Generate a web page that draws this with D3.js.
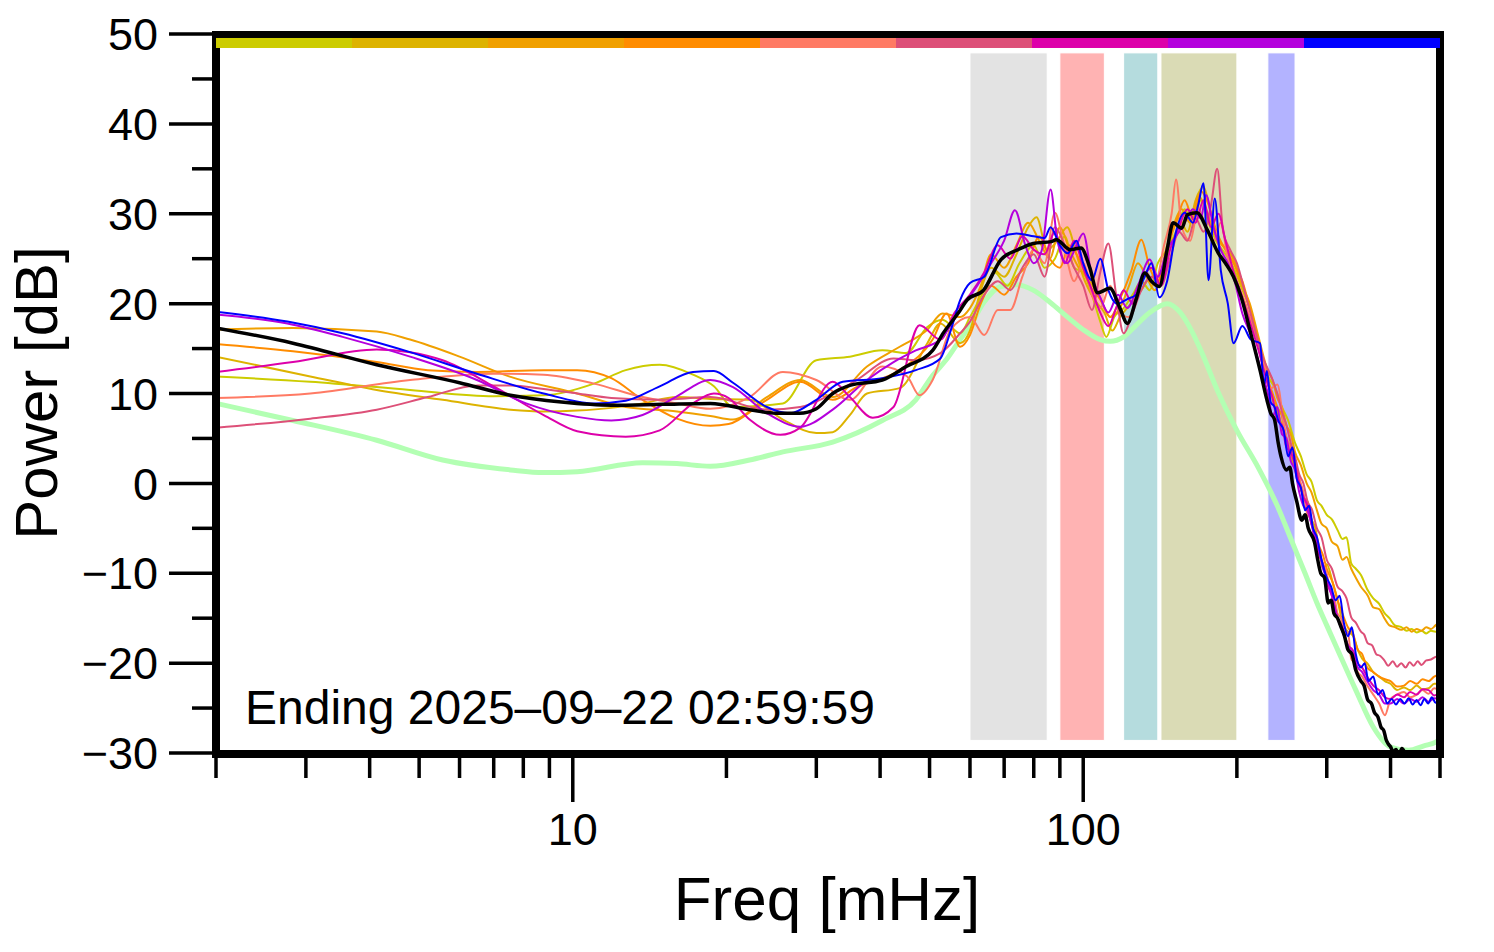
<!DOCTYPE html>
<html><head><meta charset="utf-8">
<script src="https://cdn.jsdelivr.net/npm/d3@7"></script>
<style>body{margin:0;background:#fff} svg{display:block} text{font-family:"Liberation Sans",Arial,Helvetica,sans-serif;fill:#000}</style>
</head><body><svg id="c" width="1494" height="952"></svg>
<script>
// ---- axis data ----
const xDomain = [2, 500];
const yDomain = [-30, 50];
const yMajorTicks = [-30, -20, -10, 0, 10, 20, 30, 40, 50];
const yMinorTicks = [-25, -15, -5, 5, 15, 25, 35, 45];
const xMajorTicks = [10, 100];
const xMinorTicks = [2, 3, 4, 5, 6, 7, 8, 9, 20, 30, 40, 50, 60, 70, 80, 90, 200, 300, 400, 500];
const xTitle = "Freq [mHz]";
const yTitle = "Power [dB]";
const note = "Ending 2025\u201309\u201322 02:59:59";

// ---- shaded frequency bands (mHz) ----
const bandLo = [60, 90, 120, 142, 230];
const bandHi = [85, 110, 140, 200, 260];
const bandColors = ["#E3E3E3", "#FFB3B3", "#B5DCDE", "#DADBB5", "#B3B3FF"];
const bandRange = [-28.6, 47.9];

// ---- colour bar segments (one per series) ----
const segmentNames = ["h1", "h2", "h3", "h4", "h5", "h6", "h7", "h8", "h9"];
const segmentColors = ["#CCCC00", "#DDB300", "#F0A000", "#FF8C00", "#FF7A64", "#DD5078", "#DD00AA", "#B400DD", "#0000FF"];
const barLevel = [47.9, 49.0];

// ---- series values: [freq mHz, dB] ----
const noiseRef = [[2,8.9],[2.83,7.0],[4.13,4.8],[5.56,2.6],[7.55,1.5],[8.77,1.2],[10.2,1.3],[13.7,2.3],[16,2.2],[18.6,1.9],[22.2,2.6],[25.8,3.5],[32.3,4.6],[40.4,7.0],[47,9.3],[50.7,12.0],[54,13.8],[57.4,16.0],[60,17.5],[63.8,20.1],[68.9,21.9],[74,22.1],[79.8,21.5],[86.3,20.1],[93.2,18.5],[100,17.1],[108,16.0],[113,15.8],[120,16.3],[127,17.6],[135,19.0],[146,20.0],[155,19.0],[163,17.0],[170,14.8],[183,10.4],[200,5.9],[220,1.8],[240,-2.5],[257,-6.6],[272,-10.0],[287,-13.3],[300,-15.8],[315,-18.5],[342,-23.0],[370,-27.1],[399,-29.3],[434,-29.7],[465,-29.2],[490,-28.8],[500,-28.5]];

const yellowGreen = [[2,11.9],[3.06,11.3],[4.8,10.4],[7.0,9.7],[8.77,9.8],[11,11.1],[12.7,12.6],[14.8,13.2],[17.2,12.1],[18.9,10.8],[20.6,8.5],[25.8,8.9],[30,13.7],[34.9,14.1],[40.4,14.8],[45,14.5],[49.5,17.4],[53,18.2],[57.4,16.7],[60,18.5],[64,21.5],[67,23.5],[71,22.0],[75,24.5],[80,26.5],[84,24.0],[88,25.0],[92,27.5],[96,24.0],[100,23.5],[104,21.0],[108,18.0],[111,16.3],[115,18.5],[120,19.5],[125,21.0],[130,22.5],[135,21.5],[140,24.5],[146,26.0],[152,28.0],[158,30.5],[164,29.0],[170,31.5],[176,29.0],[182,27.0],[190,25.5],[197,24.0],[205,21.5],[212,19.5],[220,16.0],[230,12.0],[238,10.5],[245,8.5],[252,7.0],[260,4.5],[267,3.0],[274,1.0],[280,0.2],[287,-1.9],[293,-2.5],[300,-3.5],[307,-4.0],[315,-5.2],[322,-6.2],[328,-6.0],[335,-8.9],[342,-9.5],[350,-10.2],[361,-11.9],[370,-12.8],[380,-13.4],[389,-14.4],[398,-15.0],[408,-15.8],[420,-16.0],[430,-16.4],[440,-16.2],[450,-16.6],[460,-16.4],[470,-16.7],[480,-16.4],[490,-16.5],[500,-16.3]];

const gold = [[2,14.1],[3.06,11.9],[4.13,10.4],[5.56,9.3],[7.55,8.2],[8.77,8.0],[10.2,8.1],[11.9,8.4],[13.7,8.9],[16,9.6],[18.6,9.4],[22.2,9.3],[25.8,7.1],[30,5.6],[32.3,5.7],[34.9,7.6],[37.7,10.0],[43.7,10.6],[49.5,15.6],[52.5,17.8],[57.4,15.6],[60,17.0],[63,21.5],[66,24.0],[70,23.0],[74,25.5],[78,28.5],[81,29.6],[85,26.0],[89,27.0],[93,28.5],[97,25.5],[100,23.0],[105,20.5],[110,19.0],[114,17.0],[118,18.5],[124,20.0],[130,21.5],[136,23.0],[142,22.5],[148,27.0],[154,29.5],[160,28.0],[166,31.5],[172,33.0],[178,30.0],[184,27.5],[190,26.0],[197,25.0],[205,22.0],[213,19.0],[222,15.0],[230,11.5],[236,9.0],[240,8.0],[245,6.5],[250,5.0],[255,3.0],[260,1.5],[265,0.0],[270,-1.5],[275,-2.5],[280,-4.0],[285,-5.0],[290,-7.5],[295,-9.5],[300,-9.0],[308,-11.0],[315,-13.0],[322,-15.5],[330,-16.5],[338,-17.0],[345,-18.5],[352,-19.5],[360,-20.0],[370,-21.0],[380,-21.5],[390,-22.0],[400,-22.3],[412,-23.0],[425,-22.7],[437,-23.0],[450,-22.5],[462,-22.9],[475,-22.8],[487,-22.3],[500,-22.3]];

const orange = [[2,17.1],[2.83,17.3],[4.13,16.9],[4.8,16.0],[6.0,14.1],[7.5,11.9],[10.2,10.0],[12.7,8.5],[16,8.0],[18.6,7.5],[20.6,7.1],[24,9.6],[27.9,11.5],[32.3,9.6],[37.7,13.0],[43.7,15.2],[49.5,17.1],[53,18.9],[57.4,18.5],[60,19.5],[63,22.0],[66,25.5],[70,24.0],[74,26.5],[78,29.0],[82,27.0],[86,25.0],[90,28.5],[94,26.0],[98,24.0],[103,22.5],[108,20.5],[113,18.5],[118,19.5],[123,22.0],[128,24.5],[133,23.0],[138,21.5],[144,24.0],[150,28.5],[156,30.5],[162,29.0],[168,32.0],[174,30.5],[180,28.0],[187,26.5],[195,25.5],[203,22.5],[212,20.0],[220,16.5],[230,12.5],[235,11.5],[240,9.5],[245,8.5],[250,6.5],[255,5.5],[260,3.5],[267,2.0],[274,0.0],[280,-1.0],[287,-3.0],[293,-4.5],[300,-5.0],[307,-6.5],[315,-7.0],[322,-8.5],[328,-8.2],[335,-9.5],[342,-10.5],[350,-11.5],[361,-12.5],[370,-13.8],[380,-14.0],[389,-15.0],[398,-15.8],[408,-16.0],[420,-16.3],[430,-16.0],[440,-16.5],[450,-16.2],[460,-16.4],[470,-16.0],[480,-16.2],[490,-15.8],[500,-15.4]];

const darkOrange = [[2,15.5],[2.83,14.7],[4.13,13.5],[5.2,12.6],[6.5,12.4],[8.77,12.6],[10.2,12.6],[11.9,11.7],[13.7,9.3],[16,7.2],[18.6,6.4],[20.2,6.6],[24,9.3],[27.9,11.3],[32.3,9.3],[36,10.7],[43.7,12.6],[50.7,16.0],[54,18.9],[57.4,15.2],[60,16.5],[63,20.0],[66,22.0],[70,21.0],[74,23.0],[78,24.5],[82,27.5],[86,25.0],[90,24.0],[94,26.5],[98,25.0],[103,22.0],[108,20.5],[113,18.5],[118,20.5],[124,23.5],[130,27.1],[135,24.0],[140,22.5],[146,26.5],[152,29.0],[158,31.5],[164,29.5],[170,32.5],[176,31.0],[182,28.0],[190,26.0],[197,24.5],[205,22.5],[213,19.0],[222,15.0],[230,11.5],[235,10.0],[240,8.5],[245,7.5],[250,5.0],[255,4.0],[260,2.0],[265,0.5],[270,-1.5],[275,-2.0],[280,-4.5],[285,-5.5],[290,-7.0],[295,-8.0],[300,-9.5],[308,-11.0],[315,-13.0],[322,-14.5],[330,-16.0],[338,-16.8],[345,-18.5],[352,-19.0],[360,-20.5],[370,-21.0],[380,-21.5],[390,-21.8],[400,-22.0],[412,-22.6],[425,-22.5],[437,-22.0],[450,-22.3],[462,-21.8],[475,-22.0],[487,-21.5],[500,-21.3]];

const salmon = [[2,9.5],[3.06,10.0],[4.8,11.5],[7.0,12.2],[8.77,12.1],[11,11.1],[13.7,9.6],[16,8.9],[18.6,8.3],[22.2,9.6],[25.8,12.4],[30,11.5],[34.9,9.3],[40.4,13.0],[45.2,11.9],[47.8,9.8],[50.7,11.5],[55,17.1],[60,18.5],[64,16.5],[68,19.3],[72,19.3],[76,23.0],[80,26.0],[84,24.5],[88,30.1],[92,26.0],[96,22.5],[100,24.5],[104,21.0],[108,19.5],[113,22.0],[118,19.0],[123,18.5],[128,21.5],[133,23.5],[138,22.0],[144,26.5],[149,30.0],[152,33.8],[156,28.5],[162,27.0],[168,30.5],[174,28.5],[180,27.0],[186,29.0],[192,25.0],[200,22.5],[208,20.0],[216,17.0],[225,14.0],[232,10.5],[240,11.0],[248,6.0],[256,3.5],[265,0.5],[270,-1.0],[275,-3.5],[280,-4.0],[285,-6.5],[290,-7.5],[295,-9.0],[300,-10.0],[305,-12.0],[310,-12.5],[315,-14.5],[320,-15.0],[325,-17.0],[330,-16.5],[335,-19.5],[340,-20.0],[345,-21.0],[352,-21.5],[360,-22.5],[370,-23.5],[380,-24.5],[390,-25.8],[400,-24.0],[412,-23.5],[425,-23.2],[437,-23.8],[450,-23.5],[462,-23.0],[475,-23.4],[487,-22.8],[500,-23.0]];

const pinkRed = [[2,6.2],[3.06,7.2],[4.13,8.2],[5.2,9.6],[6.5,10.9],[7.55,10.9],[8.77,10.5],[10.2,10.0],[11.9,9.5],[14.8,9.3],[18.6,9.6],[24,8.2],[27.9,8.5],[32.3,10.0],[36,11.5],[42.5,13.9],[47,13.7],[52.5,14.5],[57.4,16.7],[60,18.0],[64,21.0],[68,22.5],[72,21.5],[76,24.0],[80,25.5],[84,23.0],[88,28.5],[92,26.5],[96,24.0],[100,22.0],[104,19.3],[108,23.5],[112,26.7],[116,21.0],[120,16.7],[125,19.0],[130,21.5],[136,23.0],[142,22.0],[148,25.0],[154,28.0],[160,27.0],[166,29.5],[172,28.0],[178,31.0],[183,35.0],[188,28.0],[194,26.0],[200,24.5],[208,21.0],[216,17.5],[225,14.0],[235,11.5],[240,10.0],[245,8.0],[250,6.5],[255,4.5],[260,3.0],[265,1.0],[270,0.0],[275,-2.0],[281,-3.0],[287,-5.0],[293,-6.0],[300,-8.5],[307,-9.5],[315,-11.5],[322,-12.0],[328,-12.8],[335,-14.9],[342,-15.5],[350,-16.5],[355,-16.8],[361,-17.8],[368,-18.0],[375,-19.0],[382,-19.2],[389,-19.7],[396,-20.3],[404,-19.8],[412,-20.4],[420,-20.0],[428,-20.5],[436,-19.9],[444,-20.3],[452,-19.8],[460,-20.2],[470,-19.7],[480,-19.6],[490,-19.3],[500,-19.2]];

const magenta = [[2,12.4],[2.83,13.5],[4.13,14.9],[4.8,14.6],[5.56,13.7],[7.0,10.8],[8.77,7.6],[10.2,5.8],[12.7,5.2],[14.8,5.9],[17.2,8.9],[18.9,10.0],[20.2,9.5],[22.2,7.1],[25.5,5.4],[27.9,6.2],[32.3,11.3],[34.9,9.6],[38.7,7.3],[42.5,8.5],[47.8,17.6],[52.5,16.0],[56,19.0],[60,21.0],[64,23.5],[68,26.5],[72,25.0],[76,27.5],[80,26.0],[84,25.5],[88,28.0],[92,24.5],[96,27.0],[100,24.0],[104,21.5],[108,19.0],[112,17.5],[116,19.5],[120,21.5],[125,20.0],[130,22.5],[136,24.0],[142,22.0],[148,26.0],[154,28.5],[160,30.5],[166,29.0],[172,31.5],[178,28.5],[184,30.0],[190,27.0],[196,24.0],[204,21.0],[212,18.0],[220,15.0],[230,11.0],[235,9.5],[240,7.0],[245,6.5],[250,4.0],[255,3.5],[260,2.0],[265,0.0],[270,-1.5],[275,-2.5],[280,-4.5],[285,-6.0],[290,-8.0],[295,-9.0],[300,-11.0],[307,-12.5],[315,-15.0],[322,-16.0],[330,-18.0],[337,-18.5],[345,-20.0],[352,-20.5],[360,-21.5],[370,-22.5],[380,-23.0],[390,-23.8],[400,-24.0],[412,-23.5],[425,-23.8],[437,-23.2],[450,-23.5],[462,-22.9],[475,-23.0],[487,-23.6],[500,-23.3]];

const purple = [[2,18.8],[2.76,17.8],[3.54,16.3],[4.8,14.1],[6.49,11.5],[8.1,8.9],[10.2,7.4],[11.9,7.0],[13.7,7.6],[15.9,9.6],[18.6,11.5],[20.6,10.7],[24,7.8],[27.9,6.3],[32.3,8.2],[37.7,11.5],[42.5,13.5],[47,14.8],[52.5,16.0],[57.4,19.3],[62,22.0],[66,24.5],[70,27.0],[73.5,30.4],[77,26.5],[80,24.5],[83,26.0],[86.3,32.7],[89,27.0],[93,24.5],[97,26.5],[100,27.8],[104,23.0],[108,20.7],[112,19.0],[117,21.0],[122,19.5],[128,22.0],[135,24.9],[140,23.0],[146,26.0],[152,27.5],[158,29.0],[164,30.5],[170,29.5],[174,32.1],[180,28.5],[186,26.0],[192,24.5],[198,22.5],[205,18.9],[213,16.5],[222,13.0],[230,10.0],[235,7.5],[240,8.5],[245,5.5],[250,5.0],[255,2.5],[260,1.5],[265,-1.0],[270,-2.5],[275,-3.0],[280,-4.5],[285,-6.5],[290,-7.5],[295,-9.5],[300,-10.5],[307,-12.5],[315,-15.0],[322,-16.5],[330,-18.0],[337,-19.0],[345,-20.5],[352,-21.0],[360,-22.0],[370,-23.0],[380,-23.5],[390,-24.5],[400,-24.5],[412,-24.0],[425,-24.5],[437,-24.0],[450,-24.3],[462,-23.8],[475,-24.3],[487,-23.9],[500,-24.0]];

const blue = [[2,19.1],[2.76,18.0],[3.54,16.7],[4.8,14.6],[6.49,12.2],[8.77,10.0],[11.0,8.9],[12.7,9.2],[14.8,10.8],[17.2,12.4],[18.9,12.5],[20.6,11.2],[24,8.5],[26.6,7.8],[30,9.3],[33.8,11.3],[40.4,11.7],[47,12.6],[52.5,13.9],[55,17.0],[57.4,20.4],[60,22.3],[64,23.0],[69,27.4],[74,27.8],[80,27.5],[84,27.3],[86.3,28.5],[90,26.5],[93.2,25.6],[97,27.0],[100,24.5],[104,22.6],[108,25.0],[112,21.5],[116.5,20.0],[122,20.5],[127,21.0],[132,23.0],[136,24.5],[141,20.7],[146,22.5],[152,28.0],[158,30.1],[164,29.0],[168,31.0],[172,33.4],[176,22.6],[181,31.7],[186,23.7],[192,20.0],[197,15.6],[205,17.5],[213,16.0],[222,15.6],[226,11.0],[229,12.5],[233,9.0],[237,8.5],[241,7.0],[247,5.9],[252,3.0],[257,4.0],[262,0.5],[267,-0.5],[272,-3.0],[277,-2.5],[282,-5.0],[287,-6.0],[293,-8.5],[300,-10.5],[306,-11.5],[312,-13.0],[318,-12.5],[324,-15.5],[330,-17.0],[336,-16.0],[342,-19.0],[350,-20.5],[356,-20.0],[362,-22.0],[370,-21.5],[378,-23.5],[386,-23.0],[394,-24.5],[402,-24.0],[410,-24.6],[418,-24.0],[426,-24.5],[434,-23.9],[442,-24.6],[450,-24.1],[458,-24.7],[466,-24.0],[474,-24.5],[482,-23.8],[490,-24.4],[500,-24.0]];

const average = [[2,17.3],[2.83,15.6],[4.13,13.2],[6.0,11.2],[7.55,9.8],[9.5,9.05],[11.9,8.7],[15,8.8],[18.6,8.9],[22.2,8.2],[25,7.8],[27.8,7.8],[30,8.3],[32.3,10.0],[34.9,10.9],[40.4,11.5],[45,13.0],[50.7,14.8],[53.3,16.8],[57,19.0],[59.2,20.4],[63.8,21.5],[69,24.9],[74.5,26.0],[79.8,26.7],[86.6,26.9],[88.5,27.1],[94.4,26.0],[99,26.2],[103,24.0],[106.7,21.2],[112.8,21.7],[118,19.5],[122,17.8],[127,20.5],[132,23.4],[136,22.5],[141,21.9],[146,26.0],[150,29.0],[156,28.4],[160,29.9],[167,30.1],[175,28.2],[184,25.6],[190,24.5],[197,23.0],[204,20.7],[212,17.1],[222,12.6],[229,9.3],[233,7.8],[237,7.1],[241,4.5],[244,3.0],[250,1.5],[254,1.8],[257,0.0],[262,-2.0],[268,-4.1],[272,-3.5],[276,-5.0],[284,-6.6],[288,-8.5],[292,-10.0],[297,-10.5],[302,-13.3],[306,-13.0],[310,-14.5],[315,-15.0],[320,-16.0],[325,-17.0],[330,-18.5],[336,-19.0],[342,-20.8],[350,-22.0],[355,-22.5],[361,-24.1],[367,-24.5],[372,-25.5],[378,-26.0],[383,-27.1],[388,-27.5],[392,-28.5],[396,-29.0],[400,-29.3],[405,-29.9],[410,-29.6],[415,-30.3],[421,-29.5],[430,-30.2],[440,-29.9],[450,-30.3],[460,-30.0],[470,-30.3],[480,-30.0],[490,-30.3],[500,-30.0]];

const seriesValues = [yellowGreen, gold, orange, darkOrange, salmon, pinkRed, magenta, purple, blue];

// ---- drawing ----
const W = 1494, H = 952;
const svg = d3.select("#c");
svg.append("rect").attr("width", W).attr("height", H).attr("fill", "#fff");
const x = d3.scaleLog().domain(xDomain).range([216, 1440]);
const y = d3.scaleLinear().domain(yDomain).range([753, 34]);

svg.append("clipPath").attr("id", "plotclip").append("rect")
  .attr("x", 216).attr("y", 34).attr("width", 1440 - 216).attr("height", 753 - 34);

// bands
svg.append("g").selectAll("rect").data(bandLo).join("rect")
  .attr("x", (d) => x(d))
  .attr("width", (d, i) => x(bandHi[i]) - x(d))
  .attr("y", y(bandRange[1]))
  .attr("height", y(bandRange[0]) - y(bandRange[1]))
  .attr("fill", (d, i) => bandColors[i])
  .attr("stroke", "#fff").attr("stroke-width", 1);

const line = d3.line().x((d) => x(d[0])).y((d) => y(d[1])).curve(d3.curveMonotoneX);
const lines = svg.append("g").attr("clip-path", "url(#plotclip)").attr("fill", "none")
  .attr("stroke-linejoin", "round").attr("stroke-linecap", "round");
lines.append("path").datum(noiseRef).attr("d", line).attr("stroke", "#B3FFB3").attr("stroke-width", 5);
seriesValues.forEach((s, i) => {
  lines.append("path").datum(s).attr("d", line).attr("stroke", segmentColors[i]).attr("stroke-width", 2);
});
lines.append("path").datum(average).attr("d", line).attr("stroke", "#000").attr("stroke-width", 3.5);

// ticks
const tk = svg.append("g").attr("stroke", "#000").attr("stroke-width", 3.5);
tk.selectAll(".ym").data(yMajorTicks).join("line").attr("x1", 169).attr("x2", 216).attr("y1", (d) => y(d)).attr("y2", (d) => y(d));
tk.selectAll(".yn").data(yMinorTicks).join("line").attr("x1", 192).attr("x2", 216).attr("y1", (d) => y(d)).attr("y2", (d) => y(d));
tk.selectAll(".xm").data(xMajorTicks).join("line").attr("y1", 753).attr("y2", 802).attr("x1", (d) => x(d)).attr("x2", (d) => x(d));
tk.selectAll(".xn").data(xMinorTicks).join("line").attr("y1", 753).attr("y2", 778).attr("x1", (d) => x(d)).attr("x2", (d) => x(d));

// frame
svg.append("rect").attr("x", 216).attr("y", 35).attr("width", 1440 - 216).attr("height", 754 - 35)
  .attr("fill", "none").attr("stroke", "#000").attr("stroke-width", 8);

// colour bar
const bx = d3.scaleBand().domain(segmentNames).range([216, 1440]);
svg.append("g").selectAll("rect").data(segmentNames).join("rect")
  .attr("x", (d) => bx(d)).attr("width", bx.bandwidth())
  .attr("y", y(barLevel[1]) - 5).attr("height", 10)
  .attr("fill", (d, i) => segmentColors[i]);

// tick labels
const fmt = (v) => (v < 0 ? "\u2212" + Math.abs(v) : String(v));
svg.append("g").selectAll("text").data(yMajorTicks).join("text")
  .attr("x", 158).attr("y", (d) => y(d)).attr("dy", "0.36em")
  .attr("text-anchor", "end").attr("font-size", 45).text(fmt);
svg.append("g").selectAll("text").data(xMajorTicks).join("text")
  .attr("x", (d) => x(d)).attr("y", 845)
  .attr("text-anchor", "middle").attr("font-size", 45).text((d) => String(d));

// titles
svg.append("text").attr("x", 827).attr("y", 920).attr("text-anchor", "middle").attr("font-size", 62).text(xTitle);
svg.append("text").attr("transform", "translate(57,393) rotate(-90)").attr("text-anchor", "middle").attr("font-size", 60).text(yTitle);
svg.append("text").attr("x", 245).attr("y", 724).attr("font-size", 48).text(note);
</script></body></html>
